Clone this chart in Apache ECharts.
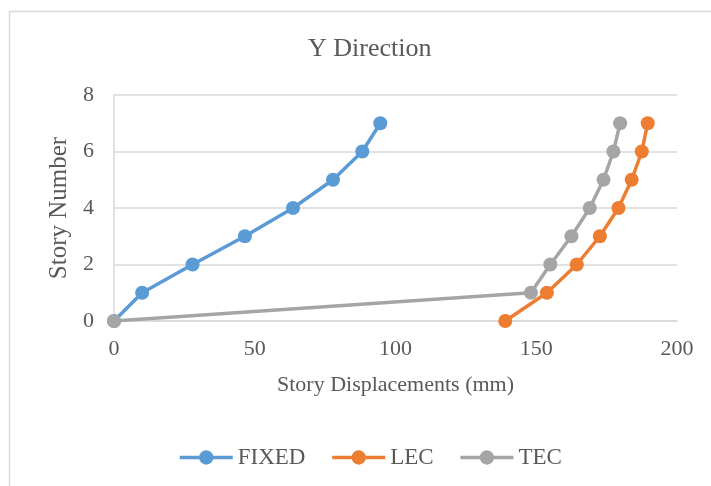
<!DOCTYPE html>
<html>
<head>
<meta charset="utf-8">
<script src="https://cdn.jsdelivr.net/npm/echarts@6/dist/echarts.min.js"></script>
<style>
  html, body { margin: 0; padding: 0; background: #fff; }
  #chart { width: 711px; height: 486px; }
</style>
</head>
<body>
<div id="chart"></div>
<script>
// Story displacement profiles, Y direction (mm), story 0..7
const stories = [0, 1, 2, 3, 4, 5, 6, 7];
const fixedDisp = [0, 10.0, 27.9, 46.5, 63.6, 77.8, 88.2, 94.6];
const lecDisp = [139.0, 153.8, 164.4, 172.6, 179.2, 183.9, 187.5, 189.6];
const tecDisp = [0, 148.1, 155.0, 162.5, 169.0, 173.9, 177.4, 179.8];
const xTicks = [0, 50, 100, 150, 200];
const yTicks = [0, 2, 4, 6, 8];

const FONT = '"Liberation Serif", "Times New Roman", serif';
const TEXT = '#595959';
const GRID = '#d9d9d9';

function pairs(xs) {
  return xs.map((x, i) => [x, stories[i]]);
}

function lineSeries(name, xs, color) {
  return {
    name: name,
    type: 'line',
    data: pairs(xs),
    symbol: 'circle',
    symbolSize: 14,
    itemStyle: { color: color },
    lineStyle: { color: color, width: 3.5 },
    emphasis: { disabled: true },
    animation: false
  };
}

const chart = echarts.init(document.getElementById('chart'), null, { renderer: 'canvas' });
chart.setOption({
  backgroundColor: '#fff',
  graphic: [{
    type: 'rect',
    shape: { x: 9.5, y: 11.5, width: 900, height: 700 },
    style: { fill: 'none', stroke: GRID, lineWidth: 1.5 },
    silent: true,
    z: -1
  }],
  title: {
    text: 'Y Direction',
    left: 303,
    top: 31,
    textStyle: { fontFamily: FONT, fontSize: 26, fontWeight: 'normal', color: TEXT }
  },
  legend: {
    bottom: 12,
    left: 173,
    itemWidth: 53,
    itemHeight: 18,
    itemGap: 25,
    lineStyle: { width: 3.5 },
    textStyle: { fontFamily: FONT, fontSize: 23, color: TEXT },
    data: ['FIXED', 'LEC', 'TEC']
  },
  grid: { left: 114, right: 34, top: 95, bottom: 165 },
  xAxis: {
    type: 'value',
    min: xTicks[0],
    max: xTicks[xTicks.length - 1],
    interval: xTicks[1] - xTicks[0],
    name: 'Story Displacements (mm)',
    nameLocation: 'middle',
    nameGap: 53,
    nameTextStyle: { fontFamily: FONT, fontSize: 22, color: TEXT },
    axisLine: { show: true, lineStyle: { color: GRID, width: 1.5 } },
    axisTick: { show: false },
    splitLine: { show: false },
    axisLabel: { fontFamily: FONT, fontSize: 22, color: TEXT, margin: 17 }
  },
  yAxis: {
    type: 'value',
    min: yTicks[0],
    max: yTicks[yTicks.length - 1],
    interval: yTicks[1] - yTicks[0],
    name: 'Story Number',
    nameLocation: 'middle',
    nameGap: 41,
    nameTextStyle: { fontFamily: FONT, fontSize: 25, color: TEXT },
    axisLine: { show: true, lineStyle: { color: GRID, width: 1.5 } },
    axisTick: { show: false },
    splitLine: { show: true, lineStyle: { color: GRID, width: 1.5 } },
    axisLabel: { fontFamily: FONT, fontSize: 22, color: TEXT, margin: 20 }
  },
  series: [
    lineSeries('FIXED', fixedDisp, '#5b9bd5'),
    lineSeries('LEC', lecDisp, '#ed7d31'),
    lineSeries('TEC', tecDisp, '#a5a5a5')
  ]
});
</script>
</body>
</html>
